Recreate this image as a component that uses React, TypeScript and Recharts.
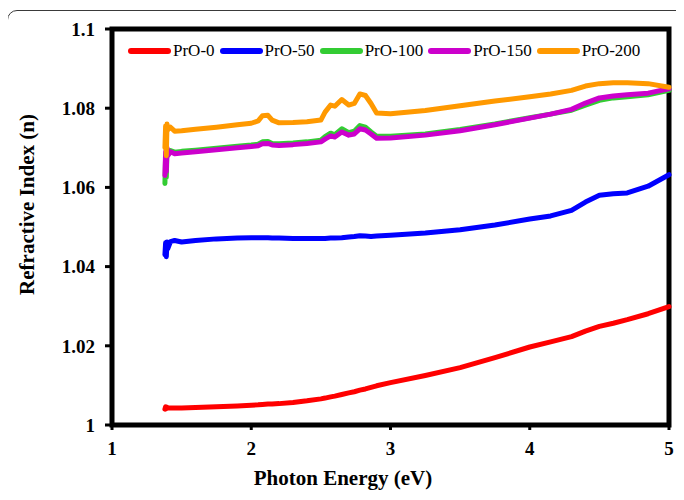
import React from 'react';
import { LineChart, Line, XAxis, YAxis, ReferenceArea } from 'recharts';

// photon energy (eV) shared by every sample
const energy = [
  1.38, 1.385, 1.39, 1.395, 1.4, 1.42, 1.45, 1.5, 1.6, 1.75, 1.9, 2.0, 2.05, 2.08, 2.12,
  2.15, 2.2, 2.3, 2.4, 2.5, 2.53, 2.57, 2.6, 2.65, 2.7, 2.74, 2.78, 2.82, 2.86, 2.9,
  3.0, 3.25, 3.5, 3.75, 4.0, 4.15, 4.3, 4.4, 4.5, 4.6, 4.7, 4.85, 5.0,
];

const pro0 = [
  1.004, 1.0046, 1.0041, 1.0045, 1.0043, 1.0043, 1.0043, 1.0043, 1.0044, 1.0046, 1.0048, 1.005, 1.0051, 1.0052, 1.0053,
  1.0053, 1.0054, 1.0057, 1.0061, 1.0066, 1.0068, 1.0071, 1.0073, 1.0077, 1.0081, 1.0084, 1.0088, 1.0091, 1.0095, 1.0099,
  1.0107, 1.0125, 1.0145, 1.017, 1.0197, 1.021, 1.0223, 1.0237, 1.0249, 1.0257, 1.0266, 1.0281, 1.0299,
];

const pro50 = [
  1.043, 1.046, 1.0425, 1.0462, 1.0445, 1.0463, 1.0466, 1.0462, 1.0466, 1.047, 1.0472, 1.0473, 1.0473, 1.0473, 1.0473,
  1.0472, 1.0472, 1.0471, 1.0471, 1.0471, 1.0471, 1.0472, 1.0472, 1.0473, 1.0475, 1.0476, 1.0478, 1.0477, 1.0476, 1.0477,
  1.0479, 1.0485, 1.0493, 1.0505, 1.052, 1.0528, 1.0542, 1.0563, 1.058, 1.0584, 1.0586, 1.0603, 1.0632,
];

const pro100 = [
  1.061, 1.068, 1.0625, 1.0695, 1.0683, 1.0693, 1.0689, 1.0691, 1.0694, 1.0699, 1.0704, 1.0707, 1.0709, 1.0715, 1.0716,
  1.0711, 1.071, 1.0712, 1.0715, 1.0719, 1.0728, 1.0737, 1.0733, 1.0748, 1.0738, 1.0742, 1.0756, 1.0752, 1.074, 1.0729,
  1.0729, 1.0735, 1.0746, 1.076, 1.0776, 1.0785, 1.0795, 1.0808, 1.082, 1.0826, 1.0829, 1.0834, 1.0845,
];

const pro150 = [
  1.063, 1.069, 1.064, 1.07, 1.068, 1.069, 1.0685, 1.0687, 1.069, 1.0695, 1.07, 1.0703, 1.0705, 1.071, 1.0711,
  1.0707, 1.0706, 1.0708, 1.0711, 1.0715, 1.0722, 1.073, 1.0727, 1.074, 1.0732, 1.0735, 1.0748, 1.0745, 1.0735, 1.0724,
  1.0725, 1.0732, 1.0743, 1.0758, 1.0775, 1.0785, 1.0797, 1.0813, 1.0826, 1.0831, 1.0834, 1.0838, 1.0849,
];

const pro200 = [
  1.07, 1.0755, 1.068, 1.076, 1.0745, 1.0752, 1.0742, 1.0743, 1.0747, 1.0752, 1.0758, 1.0762, 1.0768, 1.0781, 1.0782,
  1.077, 1.0763, 1.0764, 1.0766, 1.077, 1.079, 1.0808, 1.0805, 1.0822, 1.0808, 1.0812, 1.0836, 1.0832, 1.0812, 1.0788,
  1.0786, 1.0794, 1.0806, 1.0818, 1.0829, 1.0836, 1.0845, 1.0856, 1.0862, 1.0864, 1.0864, 1.0862, 1.0853,
];

const xTicks = [1, 2, 3, 4, 5];
const yTicks = [1, 1.02, 1.04, 1.06, 1.08, 1.1];

const series = [
  { key: 'pro0', name: 'PrO-0', color: '#ff0000', values: pro0 },
  { key: 'pro50', name: 'PrO-50', color: '#0000ff', values: pro50 },
  { key: 'pro100', name: 'PrO-100', color: '#33cc33', values: pro100 },
  { key: 'pro150', name: 'PrO-150', color: '#cc00cc', values: pro150 },
  { key: 'pro200', name: 'PrO-200', color: '#ff9900', values: pro200 },
];

const data = energy.map((e, i) => {
  const row: any = { e };
  series.forEach((s) => (row[s.key] = s.values[i]));
  return row;
});

const serif = '"Liberation Serif", "Times New Roman", serif';
const tickStyle = { fill: '#000', fontFamily: serif, fontSize: 19, fontWeight: 'bold' };

export default function App() {
  return (
    <div style={{ position: 'relative', width: 676, height: 492, overflow: 'hidden' }}>
      {/* outer rounded frame */}
      <div
        style={{
          position: 'absolute',
          left: -1,
          top: 2,
          width: 720,
          height: 520,
          border: '1px solid #3a3a3a',
          borderRadius: 10,
        }}
      />
      <div style={{ position: 'absolute', left: 0, top: 0 }}>
        <LineChart width={676} height={492} data={data} margin={{ top: 21, right: 15, left: 34, bottom: 45 }}>
          <XAxis
            dataKey="e"
            type="number"
            domain={[1, 5]}
            ticks={xTicks}
            axisLine={false}
            tickLine={{ stroke: '#000', strokeWidth: 3 }}
            tickSize={5}
            tickMargin={12}
            height={30}
            tick={tickStyle}
          />
          <YAxis
            type="number"
            domain={[1, 1.1]}
            ticks={yTicks}
            allowDataOverflow
            axisLine={false}
            tickLine={{ stroke: '#000', strokeWidth: 3 }}
            tickSize={7}
            tickMargin={10}
            width={70}
            tick={tickStyle}
            tickFormatter={(v: number) => String(Number(v.toFixed(2)))}
          />
          {series.map((s) => (
            <Line
              key={s.key}
              type="linear"
              dataKey={s.key}
              name={s.name}
              stroke={s.color}
              strokeWidth={5}
              strokeLinejoin="round"
              strokeLinecap="round"
              dot={false}
              isAnimationActive={false}
            />
          ))}
          {/* heavy plot box */}
          <ReferenceArea x1={1} x2={5} y1={1} y2={1.1} fill="none" stroke="#000" strokeWidth={5} ifOverflow="visible" />
        </LineChart>
      </div>

      {/* legend */}
      <div
        style={{
          position: 'absolute',
          left: 120,
          top: 34,
          display: 'flex',
          alignItems: 'center',
          fontFamily: serif,
          fontSize: 17,
          color: '#000',
          lineHeight: 1,
        }}
      >
        {series.map((s) => (
          <div key={s.key} style={{ display: 'flex', alignItems: 'center', marginRight: 5 }}>
            <div style={{ width: 43, height: 6, borderRadius: 3, background: s.color, marginRight: 2 }} />
            <span>{s.name}</span>
          </div>
        ))}
      </div>

      {/* axis titles */}
      <div
        style={{
          position: 'absolute',
          left: 19 - 150,
          top: 197 - 11,
          width: 300,
          textAlign: 'center',
          transform: 'rotate(-90deg)',
          fontFamily: serif,
          fontWeight: 'bold',
          fontSize: 21,
          lineHeight: 1,
          whiteSpace: 'nowrap',
        }}
      >
        Refractive Index (n)
      </div>
      <div
        style={{
          position: 'absolute',
          left: 335 - 150,
          top: 460,
          width: 300,
          textAlign: 'center',
          fontFamily: serif,
          fontWeight: 'bold',
          fontSize: 21,
          lineHeight: 1,
          whiteSpace: 'nowrap',
        }}
      >
        Photon Energy (eV)
      </div>
    </div>
  );
}
